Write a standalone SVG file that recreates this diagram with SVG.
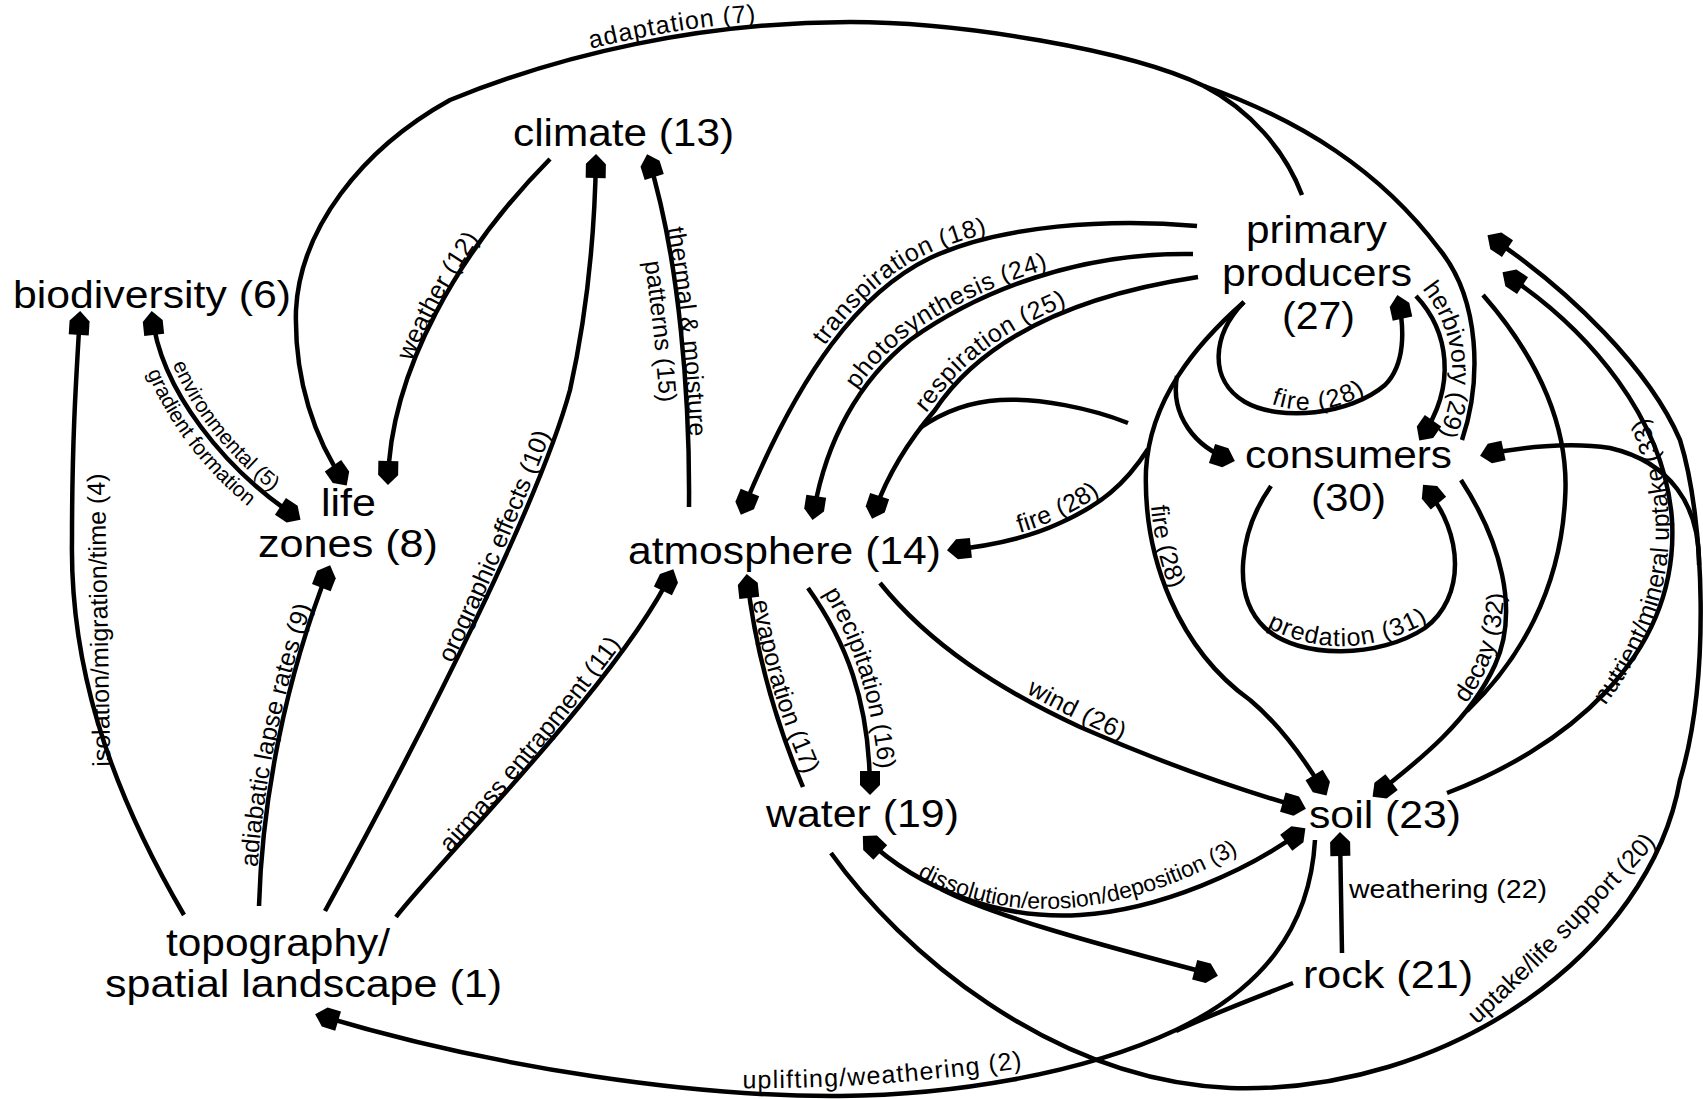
<svg xmlns="http://www.w3.org/2000/svg" xmlns:xlink="http://www.w3.org/1999/xlink" width="1703" height="1099" viewBox="0 0 1703 1099">
<style>
.n{font-family:"Liberation Sans",Arial,Helvetica,sans-serif;font-size:38px;fill:#000}
.e{font-family:"Liberation Sans",Arial,Helvetica,sans-serif;font-size:25px;fill:#000}
.s{font-size:21px}
.m{font-size:23px}
.c{fill:none;stroke:#000;stroke-width:4.5}
.a{marker-end:url(#ah)}
.b{marker-start:url(#ah);marker-end:url(#ah)}
</style>
<defs>
<marker id="ah" viewBox="-22 -11 26 22" refX="0" refY="0" markerWidth="26" markerHeight="22" markerUnits="userSpaceOnUse" orient="auto-start-reverse">
<path d="M3,0 L-7,-10 L-21,-10 L-21,10 L-7,10 Z" fill="#000"/>
</marker>
<path id="lp1" d="M553,59 Q670,25 796,19"/>
<path id="lp2" d="M404,381 Q436,295 492,222"/>
<path id="lp3" d="M439,692 Q505,555 562,405"/>
<path id="lp4a" d="M663,205 Q687,337 690,460"/>
<path id="lp4b" d="M635,205 Q659,337 662,460"/>
<path id="lp5a" d="M162,335 Q190,429 281,498"/>
<path id="lp5b" d="M136,341 Q168,447 264,519"/>
<path id="lp6" d="M111,800 L104,440"/>
<path id="lp7" d="M256,890 Q264,740 319,585"/>
<path id="lp8" d="M411,895 Q525,778 656,598"/>
<path id="lp9" d="M739,508 C797,366 857,288 927,254 C997,221 1107,214 1194,222"/>
<path id="lp10" d="M810,513 C822,436 857,376 907,336 C977,286 1077,248 1190,250"/>
<path id="lp11" d="M870,512 C882,476 902,441 932,406 C982,331 1077,291 1195,273"/>
<path id="lp12" d="M948,546 C988,542 1028,533 1057,519 C1097,501 1122,481 1139,444"/>
<path id="lp13" d="M1150,470 C1147,560 1184,650 1254,700"/>
<path id="lp14" d="M1262,400 Q1318,425 1375,388"/>
<path id="lp15" d="M1410,275 C1455,320 1468,385 1430,450"/>
<path id="lp16" d="M1268,628 Q1345,667 1428,622"/>
<path id="lp17" d="M1455,718 Q1505,660 1505,575"/>
<path id="lp18" d="M1590,725 Q1720,570 1636,395"/>
<path id="lp19" d="M1460,1040 Q1566,945 1672,825"/>
<path id="lp20" d="M900,866 Q1050,962 1256,843"/>
<path id="lp21" d="M730,1088 Q880,1090 1036,1066"/>
<path id="lp22" d="M1000,678 Q1070,720 1150,752"/>
<path id="lp23" d="M750,585 Q765,690 812,790"/>
<path id="lp24" d="M815,580 Q870,660 880,785"/>
</defs>
<rect x="0" y="0" width="1703" height="1099" fill="#fff"/>

<g id="connectors">
<path class="c a" d="M1302,195 C1285,150 1250,110 1204,86 C1130,50 960,22 850,22 C700,22 560,55 450,100 C360,150 300,230 296,310 C294,380 315,440 345,483"/>
<path class="c" d="M1462,440 C1482,380 1480,300 1440,250 C1380,170 1300,120 1204,86"/>
<path class="c a" d="M550,159 C460,250 390,370 388,482"/>
<path class="c a" d="M325,911 C430,720 540,500 570,390 C590,300 595,220 596,157"/>
<path class="c a" d="M689,507 C690,400 680,260 648,157"/>
<path class="c b" d="M152,314 C160,390 225,470 298,518"/>
<path class="c a" d="M184,915 C105,780 70,660 72,540 C72,440 76,380 80,314"/>
<path class="c a" d="M259,906 C262,800 285,680 329,568"/>
<path class="c a" d="M396,917 C440,860 620,680 672,572"/>
<path class="c a" d="M1197,226 C1110,218 1000,225 930,258 C860,292 800,370 742,512"/>
<path class="c a" d="M1193,254 C1080,252 980,290 910,340 C860,380 825,440 813,517"/>
<path class="c a" d="M1198,277 C1080,295 985,335 935,410 C905,445 885,480 873,516"/>
<path class="c" d="M1128,423 C1090,408 1040,398 1000,400 C965,402 940,414 920,428"/>
<path class="c a" d="M1244,302 C1195,345 1150,400 1146,470 C1143,560 1180,650 1250,700 C1280,725 1305,760 1325,793"/>
<path class="c a" d="M1148,449 C1125,485 1100,505 1060,523 C1030,537 990,546 950,550"/>
<path class="c a" d="M1177,376 C1170,415 1195,448 1232,460"/>
<path class="c a" d="M1244,302 C1212,335 1208,380 1245,402 C1280,422 1350,415 1385,385 C1405,365 1405,330 1398,298"/>
<path class="c a" d="M1416,296 C1448,330 1458,385 1421,438"/>
<path class="c a" d="M1271,486 C1240,530 1230,595 1265,628 C1300,660 1380,658 1425,628 C1465,598 1465,535 1425,487"/>
<path class="c a" d="M1461,480 C1500,540 1520,610 1495,665 C1470,720 1420,760 1375,795"/>
<path class="c" d="M1483,295 C1540,360 1570,430 1565,500 C1560,590 1520,660 1467,711"/>
<path class="c a" d="M1447,793 C1560,750 1680,660 1672,520 C1665,420 1590,330 1505,274"/>
<path class="c a" d="M831,853 C900,950 1050,1080 1230,1088 C1450,1095 1650,950 1680,780 C1710,680 1705,520 1680,440 C1650,370 1570,290 1490,237"/>
<path class="c a" d="M1699,565 C1700,505 1670,462 1610,448 C1570,442 1520,447 1483,455"/>
<path class="c a" d="M1342,953 L1340,835"/>
<path class="c b" d="M865,838 C920,890 1000,920 1080,915 C1160,910 1250,870 1303,830"/>
<path class="c a" d="M941,889 C990,915 1100,945 1215,975"/>
<path class="c a" d="M1315,840 C1310,930 1260,990 1176,1030 C1080,1075 950,1095 840,1096 C700,1097 500,1070 318,1015"/>
<path class="c" d="M1293,983 C1250,1000 1210,1015 1176,1031"/>
<path class="c a" d="M880,583 C930,645 1000,690 1080,727 C1160,762 1240,790 1303,808"/>
<path class="c a" d="M803,787 C775,720 755,650 747,577"/>
<path class="c a" d="M808,588 C845,640 870,700 870,792"/>
</g>

<g id="edge-labels" class="e">
<text letter-spacing="1"><textPath href="#lp1" startOffset="50%" text-anchor="middle">adaptation (7)</textPath></text>
<text><textPath href="#lp2" startOffset="50%" text-anchor="middle">weather (12)</textPath></text>
<text><textPath href="#lp3" startOffset="50%" text-anchor="middle">orographic effects (10)</textPath></text>
<text><textPath href="#lp4a" startOffset="50%" text-anchor="middle">thermal &amp; moisture</textPath></text>
<text><textPath href="#lp4b" startOffset="50%" text-anchor="middle">patterns (15)</textPath></text>
<text class="s"><textPath href="#lp5a" startOffset="55%" text-anchor="middle">environmental (5)</textPath></text>
<text class="s"><textPath href="#lp5b" startOffset="53%" text-anchor="middle">gradient formation</textPath></text>
<text><textPath href="#lp6" startOffset="50%" text-anchor="middle">isolation/migration/time (4)</textPath></text>
<text><textPath href="#lp7" startOffset="50%" text-anchor="middle">adiabatic lapse rates (9)</textPath></text>
<text><textPath href="#lp8" startOffset="50%" text-anchor="middle">airmass entrapment (11)</textPath></text>
<text letter-spacing="0.8"><textPath href="#lp9" startOffset="48%" text-anchor="middle">transpiration (18)</textPath></text>
<text letter-spacing="0.7"><textPath href="#lp10" startOffset="49%" text-anchor="middle">photosynthesis (24)</textPath></text>
<text letter-spacing="0.8"><textPath href="#lp11" startOffset="48%" text-anchor="middle">respiration (25)</textPath></text>
<text letter-spacing="0.5"><textPath href="#lp12" startOffset="52%" text-anchor="middle">fire (28)</textPath></text>
<text><textPath href="#lp13" startOffset="30%" text-anchor="middle">fire (28)</textPath></text>
<text letter-spacing="1.5"><textPath href="#lp14" startOffset="50%" text-anchor="middle">fire (28)</textPath></text>
<text><textPath href="#lp15" startOffset="50%" text-anchor="middle">herbivory (29)</textPath></text>
<text letter-spacing="1"><textPath href="#lp16" startOffset="50%" text-anchor="middle">predation (31)</textPath></text>
<text><textPath href="#lp17" startOffset="50%" text-anchor="middle">decay (32)</textPath></text>
<text><textPath href="#lp18" startOffset="50%" text-anchor="middle">nutrient/mineral uptake (33)</textPath></text>
<text><textPath href="#lp19" startOffset="50%" text-anchor="middle">uptake/life support (20)</textPath></text>
<text class="m"><textPath href="#lp20" startOffset="50%" text-anchor="middle">dissolution/erosion/deposition (3)</textPath></text>
<text letter-spacing="1.2"><textPath href="#lp21" startOffset="50%" text-anchor="middle">uplifting/weathering (2)</textPath></text>
<text letter-spacing="0.5"><textPath href="#lp22" startOffset="50%" text-anchor="middle">wind (26)</textPath></text>
<text><textPath href="#lp23" startOffset="50%" text-anchor="middle">evaporation (17)</textPath></text>
<text><textPath href="#lp24" startOffset="50%" text-anchor="middle">precipitation (16)</textPath></text>
<text x="1349" y="898" textLength="198" lengthAdjust="spacingAndGlyphs">weathering (22)</text>
</g>

<g id="node-climate"><text class="n" x="513" y="146" textLength="221" lengthAdjust="spacingAndGlyphs">climate (13)</text></g>
<g id="node-biodiversity"><text class="n" x="13" y="308" textLength="278" lengthAdjust="spacingAndGlyphs">biodiversity (6)</text></g>
<g id="node-lifezones"><text class="n" x="321" y="516" textLength="55" lengthAdjust="spacingAndGlyphs">life</text><text class="n" x="258" y="557" textLength="180" lengthAdjust="spacingAndGlyphs">zones (8)</text></g>
<g id="node-atmosphere"><text class="n" x="628" y="564" textLength="313" lengthAdjust="spacingAndGlyphs">atmosphere (14)</text></g>
<g id="node-primaryproducers"><text class="n" x="1246" y="243" textLength="141" lengthAdjust="spacingAndGlyphs">primary</text><text class="n" x="1222" y="286" textLength="190" lengthAdjust="spacingAndGlyphs">producers</text><text class="n" x="1282" y="329" textLength="73" lengthAdjust="spacingAndGlyphs">(27)</text></g>
<g id="node-consumers"><text class="n" x="1245" y="468" textLength="207" lengthAdjust="spacingAndGlyphs">consumers</text><text class="n" x="1311" y="511" textLength="75" lengthAdjust="spacingAndGlyphs">(30)</text></g>
<g id="node-water"><text class="n" x="766" y="827" textLength="193" lengthAdjust="spacingAndGlyphs">water (19)</text></g>
<g id="node-soil"><text class="n" x="1309" y="828" textLength="152" lengthAdjust="spacingAndGlyphs">soil (23)</text></g>
<g id="node-rock"><text class="n" x="1303" y="988" textLength="170" lengthAdjust="spacingAndGlyphs">rock (21)</text></g>
<g id="node-topography"><text class="n" x="166" y="956" textLength="224" lengthAdjust="spacingAndGlyphs">topography/</text><text class="n" x="105" y="997" textLength="397" lengthAdjust="spacingAndGlyphs">spatial landscape (1)</text></g>
</svg>
